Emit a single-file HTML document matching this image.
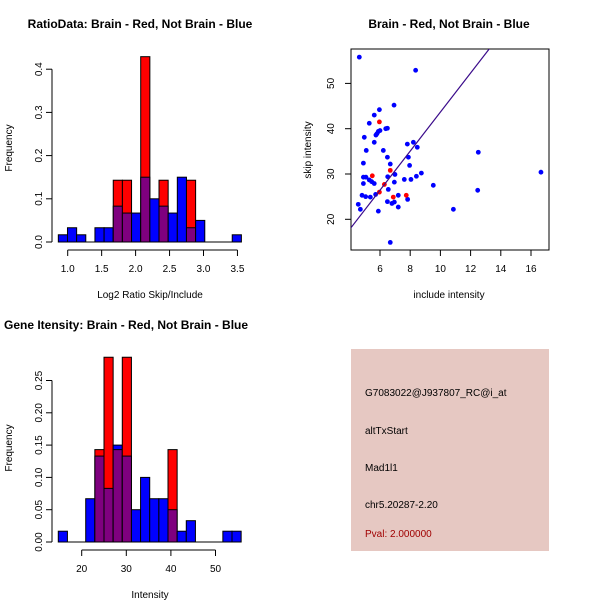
<!DOCTYPE html>
<html><head><meta charset="utf-8">
<style>
html,body{margin:0;padding:0;background:#fff;}
svg{display:block;font-family:"Liberation Sans",sans-serif;}
.t{font-weight:bold;font-size:12px;}
.l{font-size:10px;}
</style></head>
<body>
<svg id="c" width="600" height="600" viewBox="0 0 600 600">
<rect width="600" height="600" fill="#fff"/>
<text class="t" x="140" y="28" text-anchor="middle">RatioData: Brain - Red, Not Brain - Blue</text>
<text class="l" x="150" y="298" text-anchor="middle">Log2 Ratio Skip/Include</text>
<text class="l" transform="translate(12,148) rotate(-90)" text-anchor="middle">Frequency</text>
<text class="t" x="449" y="28" text-anchor="middle">Brain - Red, Not Brain - Blue</text>
<text class="l" x="449" y="298" text-anchor="middle">include intensity</text>
<text class="l" transform="translate(311,150) rotate(-90)" text-anchor="middle">skip intensity</text>
<text class="t" x="4" y="329">Gene Itensity: Brain - Red, Not Brain - Blue</text>
<text class="l" x="150" y="598" text-anchor="middle">Intensity</text>
<text class="l" transform="translate(12,448) rotate(-90)" text-anchor="middle">Frequency</text>
<g>
<rect x="351" y="349" width="198" height="202" fill="#e6c8c2"/>
<text class="l" x="365" y="396" font-size="11">G7083022@J937807_RC@i_at</text>
<text class="l" x="365" y="434" font-size="11">altTxStart</text>
<text class="l" x="365" y="471" font-size="11">Mad1l1</text>
<text class="l" x="365" y="508" font-size="11">chr5.20287-2.20</text>
<text class="l" x="365" y="537" font-size="11" fill="#a00000">Pval: 2.000000</text>
</g>
</svg>
<script>
// Ratio histogram data
const ratioBinStart = 0.862;
const ratioBinWidth = 0.1348;
const ratioBlue = [0.0167,0.033,0.0167,0,0.033,0.033,0.083,0.067,0.067,0.15,0.1,0.083,0.067,0.15,0.033,0.05,0,0,0,0.0167];
const ratioRed  = [0,0,0,0,0,0,0.143,0.143,0,0.429,0,0.143,0,0,0.143,0,0,0,0,0];
const ratioXTicks = [1.0,1.5,2.0,2.5,3.0,3.5];
const ratioXTickLabels = ["1.0","1.5","2.0","2.5","3.0","3.5"];
const ratioYTicks = [0,0.1,0.2,0.3,0.4];
const ratioYTickLabels = ["0.0","0.1","0.2","0.3","0.4"];
// Gene intensity histogram data
const geneBinStart = 14.75;
const geneBinWidth = 2.05;
const geneBlue = [0.0167,0,0,0.067,0.133,0.083,0.15,0.133,0.05,0.1,0.067,0.067,0.05,0.0167,0.033,0,0,0,0.0167,0.0167];
const geneRed  = [0,0,0,0,0.143,0.286,0.143,0.286,0,0,0,0,0.143,0,0,0,0,0,0,0];
const geneXTicks = [20,30,40,50];
const geneXTickLabels = ["20","30","40","50"];
const geneYTicks = [0,0.05,0.1,0.15,0.2,0.25];
const geneYTickLabels = ["0.00","0.05","0.10","0.15","0.20","0.25"];
// Scatter data
const blueX = [4.63,8.36,6.93,5.96,5.62,5.29,6.49,6.38,6.0,5.89,5.73,5.80,4.96,5.62,8.21,7.81,8.47,5.09,6.22,12.51,6.49,7.88,4.90,6.68,7.96,16.66,8.74,6.99,8.41,4.90,5.07,6.51,5.29,5.45,5.62,4.90,7.61,8.05,6.95,9.53,6.55,12.47,5.71,4.81,5.05,5.36,7.21,7.83,6.49,6.95,6.79,4.56,7.21,4.70,10.86,5.89,6.68];
const blueY = [55.8,52.9,45.2,44.2,43.0,41.2,40.1,40.0,39.6,39.4,38.6,38.9,38.1,37.0,37.0,36.6,35.9,35.2,35.2,34.8,33.7,33.7,32.4,32.2,31.9,30.4,30.2,29.9,29.5,29.3,29.3,29.4,28.7,28.3,27.9,27.9,28.8,28.8,28.2,27.5,26.6,26.4,25.5,25.3,25.0,24.9,25.3,24.4,23.9,23.8,23.5,23.3,22.7,22.2,22.2,21.8,14.9];
const redX = [5.96,6.68,5.49,6.29,5.96,6.88,7.74];
const redY = [41.5,30.8,29.6,27.7,26.0,24.9,25.3];
const lineIntercept = 0.57;
const lineSlope = 4.31;
const scXTicks = [6,8,10,12,14,16];
const scXTickLabels = ["6","8","10","12","14","16"];
const scYTicks = [20,30,40,50];
const scYTickLabels = ["20","30","40","50"];

const NS = "http://www.w3.org/2000/svg";
const svg = document.getElementById("c");
function mk(tag, attrs, parent) {
  const e = document.createElementNS(NS, tag);
  for (const k in attrs) e.setAttribute(k, attrs[k]);
  (parent || svg).appendChild(e);
  return e;
}

function drawHist(prefix, binStart, binWidth, blue, red, xs, xt, xl, ys, yt, yl, xAxisY, yAxisX, labelY) {
  const g = mk("g", {});
  
  
  for (let i = 0; i < blue.length; i++) {
    const x0 = xs(binStart + i * binWidth), x1 = xs(binStart + (i + 1) * binWidth);
    const b = blue[i], r = red[i];
    const hi = Math.max(b, r), lo = Math.min(b, r);
    if (hi > 0) {
      const r1 = mk("rect", {x: x0, y: ys(hi), width: x1 - x0, height: ys(0) - ys(hi), fill: b >= r ? "#0000ff" : "#ff0000", stroke: "#000", "stroke-width": 1}, g);
      
      
    }
    if (lo > 0) {
      const r2 = mk("rect", {x: x0, y: ys(lo), width: x1 - x0, height: ys(0) - ys(lo), fill: "#7f007f", stroke: "#000", "stroke-width": 1}, g);
      
      
    }
  }
  // x axis
  const ax = mk("g", {stroke: "#000", "stroke-width": 1});
  
  
  mk("line", {x1: xs(xt[0]), x2: xs(xt[xt.length - 1]), y1: xAxisY, y2: xAxisY}, ax);
  xt.forEach((v, i) => {
    mk("line", {x1: xs(v), x2: xs(v), y1: xAxisY, y2: xAxisY + 6}, ax);
    const t = mk("text", {x: xs(v), y: labelY, "text-anchor": "middle", "font-size": 10, stroke: "none", fill: "#000"}, ax);
    t.textContent = xl[i];
  });
  const ay = mk("g", {stroke: "#000", "stroke-width": 1});
  
  
  mk("line", {x1: yAxisX, x2: yAxisX, y1: ys(yt[0]), y2: ys(yt[yt.length - 1])}, ay);
  yt.forEach((v, i) => {
    mk("line", {x1: yAxisX - 6, x2: yAxisX, y1: ys(v), y2: ys(v)}, ay);
    const t = mk("text", {transform: `translate(${yAxisX - 10},${ys(v)}) rotate(-90)`, "text-anchor": "middle", "font-size": 10, stroke: "none", fill: "#000"}, ay);
    t.textContent = yl[i];
  });
}

// ratio hist scales
const rxs = v => 67.7 + (v - 1.0) * 67.9;
const rys = v => 242 - v * 432;
drawHist("ratio", ratioBinStart, ratioBinWidth, ratioBlue, ratioRed, rxs, ratioXTicks, ratioXTickLabels, rys, ratioYTicks, ratioYTickLabels, 250, 52, 272);
// base line under bars
mk("line", {x1: rxs(ratioBinStart), x2: rxs(ratioBinStart + 20 * ratioBinWidth), y1: 242, y2: 242, stroke: "#000"});

const gxs = v => 81.7 + (v - 20) * 4.46;
const gys = v => 542 - v * 646;
drawHist("gene", geneBinStart, geneBinWidth, geneBlue, geneRed, gxs, geneXTicks, geneXTickLabels, gys, geneYTicks, geneYTickLabels, 550, 52, 572);
mk("line", {x1: gxs(geneBinStart), x2: gxs(geneBinStart + 20 * geneBinWidth), y1: 542, y2: 542, stroke: "#000"});

// scatter
const sxs = v => 380 + (v - 6) * 15.1;
const sys = v => 219.3 - (v - 20) * 4.53;
const box = mk("rect", {x: 351, y: 49, width: 198, height: 201, fill: "none", stroke: "#000"});


const sax = mk("g", {stroke: "#000"});


scXTicks.forEach((v, i) => {
  mk("line", {x1: sxs(v), x2: sxs(v), y1: 250, y2: 256}, sax);
  const t = mk("text", {x: sxs(v), y: 272, "text-anchor": "middle", "font-size": 10, stroke: "none", fill: "#000"}, sax);
  t.textContent = scXTickLabels[i];
});
const say = mk("g", {stroke: "#000"});


scYTicks.forEach((v, i) => {
  mk("line", {x1: 345, x2: 351, y1: sys(v), y2: sys(v)}, say);
  const t = mk("text", {transform: `translate(334,${sys(v)}) rotate(-90)`, "text-anchor": "middle", "font-size": 10, stroke: "none", fill: "#000"}, say);
  t.textContent = scYTickLabels[i];
});
const pts = mk("g", {});


blueX.forEach((x, i) => {
  const c = mk("circle", {cx: sxs(x), cy: sys(blueY[i]), r: 2.4, fill: "#0000ff"}, pts);
  
  
});
redX.forEach((x, i) => {
  const c = mk("circle", {cx: sxs(x), cy: sys(redY[i]), r: 2.4, fill: "#ff0000"}, pts);
  
  
});
// regression line clipped to box
mk("clipPath", {id: "scclip"}).appendChild(Object.assign(document.createElementNS(NS, "rect"), {}));
document.querySelector("#scclip rect").setAttribute("x", 351);
document.querySelector("#scclip rect").setAttribute("y", 49);
document.querySelector("#scclip rect").setAttribute("width", 198);
document.querySelector("#scclip rect").setAttribute("height", 201);
const xa = 3, xb = 18;
const ln = mk("line", {x1: sxs(xa), y1: sys(lineIntercept + lineSlope * xa), x2: sxs(xb), y2: sys(lineIntercept + lineSlope * xb), stroke: "#3a0a8a", "stroke-width": 1.2, "clip-path": "url(#scclip)"});


</script>
</body></html>
